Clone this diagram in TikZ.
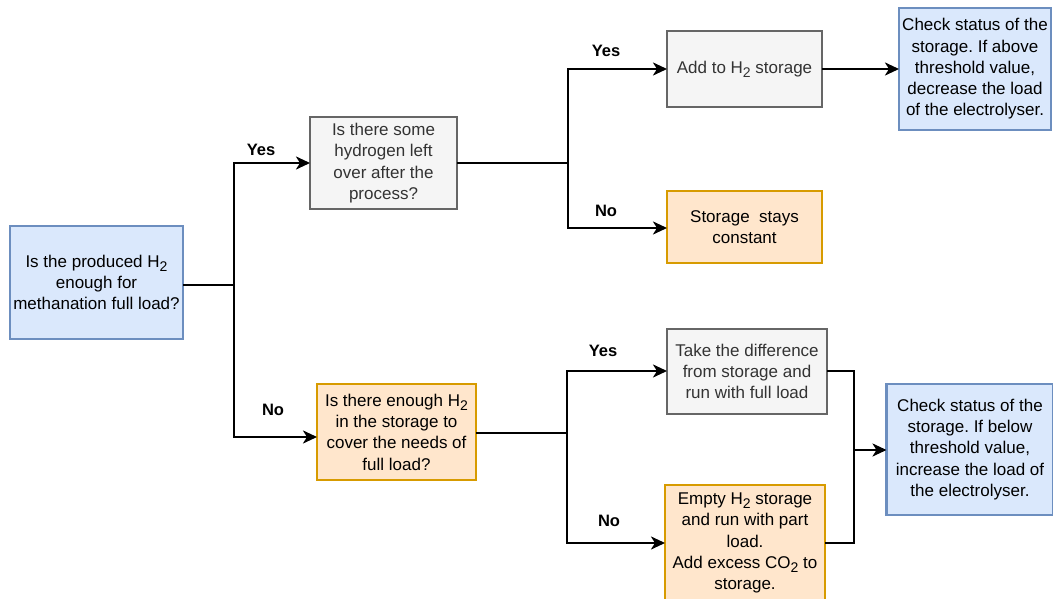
\documentclass[tikz,border=0pt]{standalone}
\usepackage{fontspec}
\setmainfont{Liberation Sans}
\usetikzlibrary{arrows.meta}
\definecolor{bluefill}{HTML}{DAE8FC}
\definecolor{blueline}{HTML}{6C8EBF}
\definecolor{greyfill}{HTML}{F5F5F5}
\definecolor{greyline}{HTML}{666666}
\definecolor{greytext}{HTML}{333333}
\definecolor{orangefill}{HTML}{FFE6CC}
\definecolor{orangeline}{HTML}{D79B00}
\newcommand{\lowtwo}{\raisebox{-0.45ex}{\fontsize{14}{14}\selectfont 2}}
\newcommand{\Hsub}{H\lowtwo}
\newcommand{\COsub}{CO\lowtwo}
\frenchspacing
\begin{document}
\begin{tikzpicture}[x=1pt,y=-1pt,
  font=\fontsize{17}{21.3}\selectfont,
  box/.style={rectangle,draw,line width=2.2pt,align=center,inner sep=0pt,outer sep=0pt},
  bluebox/.style={box,fill=bluefill,draw=blueline,text=black},
  greybox/.style={box,fill=greyfill,draw=greyline,text=greytext},
  orangebox/.style={box,fill=orangefill,draw=orangeline,text=black},
  conn/.style={line width=2.5pt,black},
  arrow/.style={conn,-{Stealth[length=14pt,width=13pt,inset=4pt]}},
  lbl/.style={font=\fontsize{16.5}{19}\selectfont\bfseries,inner sep=0pt}]
\useasboundingbox (0,0) rectangle (1053,599);

% decision and action boxes
\node[bluebox,minimum width=173,minimum height=113] (A) at (96.5,282.5)
  {Is the produced \Hsub\\enough for\\methanation full load?};
\node[greybox,minimum width=147,minimum height=92] (B) at (383.5,163)
  {Is there some\\hydrogen left\\over after the\\process?};
\node[orangebox,minimum width=159,minimum height=96] (C) at (396.5,432)
  {Is there enough \Hsub\\in the storage to\\cover the needs of\\full load?};
\node[greybox,minimum width=155,minimum height=76] (D) at (744.5,69)
  {Add to \Hsub\ storage};
\node[bluebox,minimum width=152,minimum height=122] (E) at (975,69)
  {Check status of the\\storage. If above\\threshold value,\\decrease the load\\of the electrolyser.};
\node[orangebox,minimum width=155,minimum height=72] (F) at (744.5,227)
  {Storage\ \ stays\\constant};
\node[greybox,minimum width=160,minimum height=85] (G) at (747,371.5)
  {Take the difference\\from storage and\\run with full load};
\node[orangebox,minimum width=160,minimum height=116] (H) at (745,543)
  {Empty \Hsub\ storage\\and run with part\\load.\\Add excess \COsub\ to\\storage.};
\node[bluebox,minimum width=167,minimum height=131] (I) at (970,449.5)
  {Check status of the\\storage. If below\\threshold value,\\increase the load of\\the electrolyser.};

% branching points
\coordinate (j1) at (234,285);
\coordinate (j2) at (568,163);
\coordinate (j3) at (567,433);
\coordinate (j4) at (854,450);

% connectors
\draw[conn] (A.east |- j1) -- (j1);
\draw[arrow] (j1) |- (B.west);
\draw[arrow] (j1) |- ([yshift=-5pt]C.west);
\draw[conn] (B.east) -- (j2);
\draw[arrow] (j2) |- (D.west);
\draw[arrow] (j2) |- ([yshift=-1pt]F.west);
\draw[arrow] (D.east) -- (E.west |- D.east);
\draw[conn] (C.east |- j3) -- (j3);
\draw[arrow] (j3) |- ([yshift=0.5pt]G.west);
\draw[arrow] (j3) |- (H.west);
\draw[conn] ([yshift=0.5pt]G.east) -| (j4);
\draw[conn] (H.east) -| (j4);
\draw[arrow] (j4) -- (I.west |- j4);

% branch labels
\node[lbl] (y1) at (261,150) {Yes};
\node[lbl] (n1) at (273,410) {No};
\node[lbl] (y2) at (606,51) {Yes};
\node[lbl] (n2) at (606,211) {No};
\node[lbl] (y3) at (603,351) {Yes};
\node[lbl] (n3) at (609,521) {No};
\end{tikzpicture}
\end{document}
